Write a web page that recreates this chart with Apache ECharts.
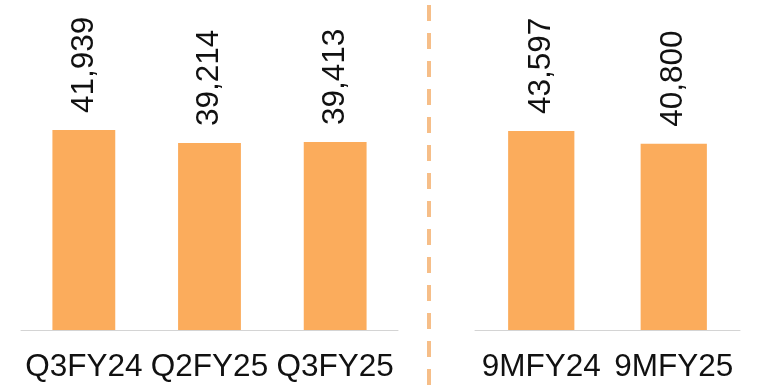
<!DOCTYPE html>
<html>
<head>
<meta charset="utf-8">
<script src="https://cdn.jsdelivr.net/npm/echarts@6/dist/echarts.min.js"></script>
<style>
  html, body { margin: 0; padding: 0; background: #ffffff; }
  #chart { width: 759px; height: 388px; }
</style>
</head>
<body>
<div id="chart"></div>
<script>
// Quarterly figures (left panel)
const quarterCategories = ['Q3FY24', 'Q2FY25', 'Q3FY25'];
const quarterValues = [41939, 39214, 39413];

// Nine-month figures (right panel)
const nineMonthCategories = ['9MFY24', '9MFY25'];
const nineMonthValues = [43597, 40800];

const BAR_COLOR = '#FBAC5C';
const TEXT_COLOR = '#111111';
const FONT = 'Liberation Sans, Arial, sans-serif';

const chart = echarts.init(document.getElementById('chart'), null, { renderer: 'canvas' });

function fmt(v) {
  return Number(v).toLocaleString('en-US');
}

function xAxisFor(gridIndex, cats) {
  return {
    type: 'category',
    gridIndex: gridIndex,
    data: cats,
    axisTick: { show: false },
    axisLine: { show: true, lineStyle: { color: '#d4d4d4', width: 1 } },
    axisLabel: { color: TEXT_COLOR, fontSize: 31.5, fontFamily: FONT, margin: 21, interval: 0 }
  };
}

function yAxisFor(gridIndex) {
  return {
    type: 'value',
    gridIndex: gridIndex,
    min: 0,
    max: 50000,
    show: false,
    splitLine: { show: false }
  };
}

function barSeries(idx, values) {
  return {
    type: 'bar',
    xAxisIndex: idx,
    yAxisIndex: idx,
    data: values,
    barWidth: '50%',
    itemStyle: { color: BAR_COLOR },
    label: {
      show: true,
      position: 'top',
      rotate: 90,
      align: 'left',
      verticalAlign: 'middle',
      distance: 17,
      color: TEXT_COLOR,
      fontSize: 31.5,
      fontFamily: FONT,
      formatter: p => fmt(p.value)
    }
  };
}

chart.setOption({
  backgroundColor: '#ffffff',
  animation: false,
  grid: [
    { left: 21, right: 361, top: 91.6, bottom: 58 },
    { left: 475, right: 19, top: 101.8, bottom: 58 }
  ],
  xAxis: [xAxisFor(0, quarterCategories), xAxisFor(1, nineMonthCategories)],
  yAxis: [yAxisFor(0), yAxisFor(1)],
  series: [barSeries(0, quarterValues), barSeries(1, nineMonthValues)],
  graphic: [
    {
      type: 'line',
      shape: { x1: 429, y1: 5, x2: 429, y2: 388 },
      style: { stroke: '#F6BE88', lineWidth: 4, lineDash: [16, 12] },
      silent: true
    }
  ]
});
</script>
</body>
</html>
